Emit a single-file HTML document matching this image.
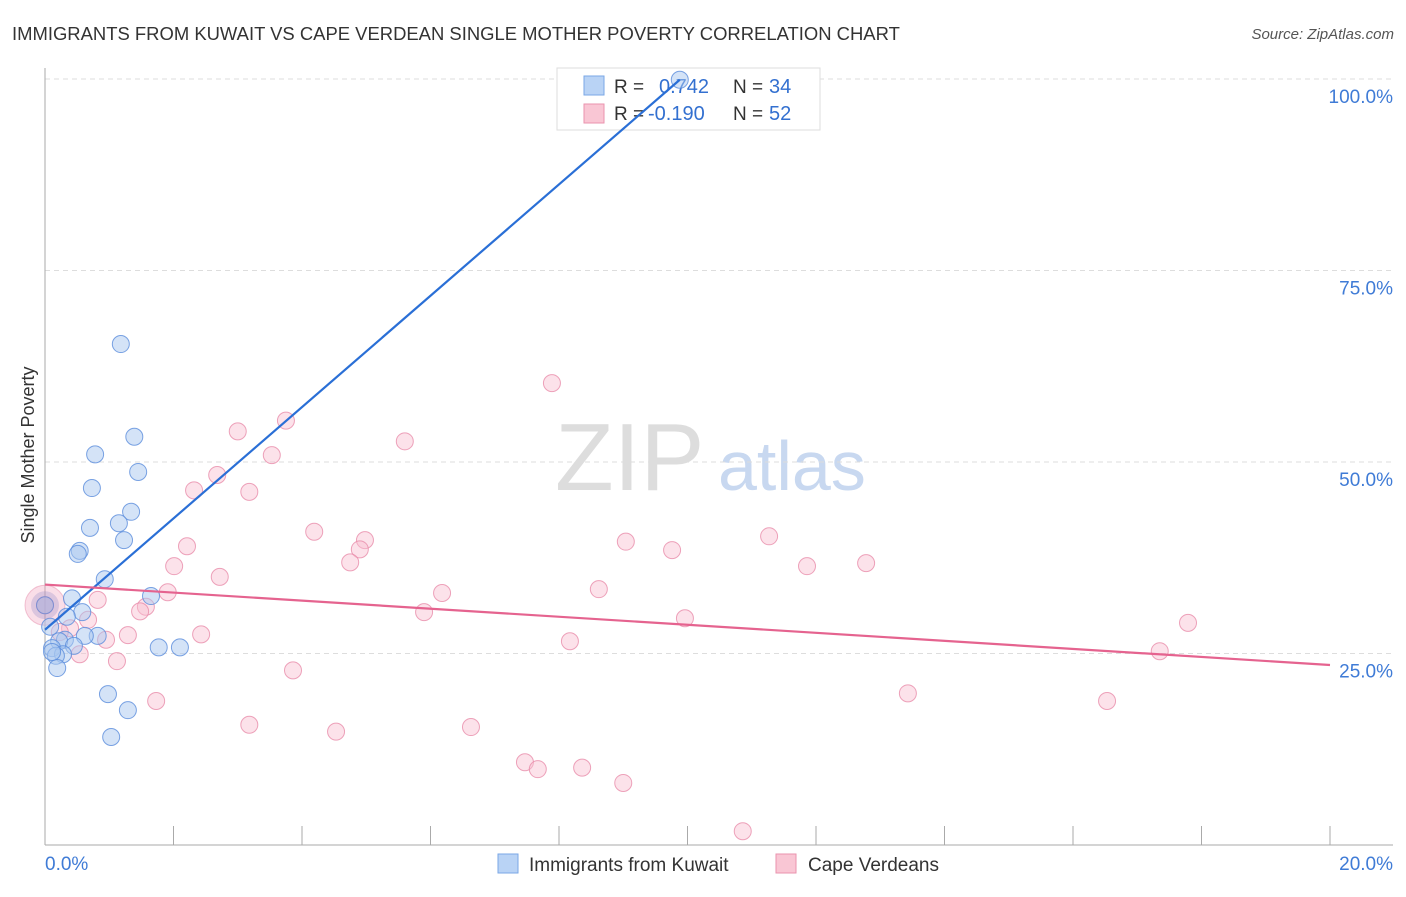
<!DOCTYPE html>
<html><head><meta charset="utf-8"><style>
body{margin:0;background:#fff;font-family:"Liberation Sans",sans-serif;}
svg text{font-family:"Liberation Sans",sans-serif;}
</style></head><body>
<svg id="c" width="1406" height="892" xmlns="http://www.w3.org/2000/svg">
<text x="12" y="40" font-size="18.45" fill="#333">IMMIGRANTS FROM KUWAIT VS CAPE VERDEAN SINGLE MOTHER POVERTY CORRELATION CHART</text>
<text x="1394" y="39" font-size="15" fill="#555" font-style="italic" text-anchor="end">Source: ZipAtlas.com</text>
<text x="34" y="455" font-size="18" fill="#333" text-anchor="middle" transform="rotate(-90 34 455)">Single Mother Poverty</text>
<text x="555" y="490" font-size="96" fill="#ddd" font-family="Liberation Serif">ZIP</text>
<text x="718" y="490" font-size="70" fill="#c8d8f0">atlas</text>
<g id="grid"></g>
<g>
<rect x="557" y="68" width="263" height="62" fill="#fff" stroke="#ddd"/>
<rect x="584" y="76" width="20" height="19" fill="#b9d3f5" stroke="#7aa7e6"/>
<rect x="584" y="104" width="20" height="19" fill="#f9c6d4" stroke="#ea93ae"/>
<text x="614" y="93" font-size="19" fill="#333">R =</text>
<text x="659" y="93" font-size="20" fill="#3370d0">0.742</text>
<text x="733" y="93" font-size="19" fill="#333">N =</text>
<text x="769" y="93" font-size="20" fill="#3370d0">34</text>
<text x="614" y="120" font-size="19" fill="#333">R =</text>
<text x="648" y="120" font-size="20" fill="#3370d0">-0.190</text>
<text x="733" y="120" font-size="19" fill="#333">N =</text>
<text x="769" y="120" font-size="20" fill="#3370d0">52</text>
</g>
<g id="pts"></g>
<g id="lines"></g>
<g>
<rect x="498" y="854" width="20" height="19" fill="#b9d3f5" stroke="#7aa7e6"/>
<text x="529" y="871" font-size="19" fill="#333">Immigrants from Kuwait</text>
<rect x="776" y="854" width="20" height="19" fill="#f9c6d4" stroke="#ea93ae"/>
<text x="808" y="871" font-size="19" fill="#333">Cape Verdeans</text>
</g>
</svg>
<script>
const xTicks=[0,2,4,6,8,10,12,14,16,18,20];
const yTicks=[25,50,75,100];
const yTickLabels=["25.0%","50.0%","75.0%","100.0%"];
const blueX=[1.18,1.39,0.78,1.45,0.73,1.34,1.15,0.70,1.23,0.54,0.51,0.93,1.65,0.42,0.58,0.34,0.82,0.62,0.31,0.22,0.45,0.11,0.28,0.17,1.77,2.10,0.19,0.98,1.29,1.03,0.0,0.08,9.88,0.11];
const blueY=[65.4,53.3,51.0,48.7,46.6,43.5,42.0,41.4,39.8,38.4,38.0,34.7,32.5,32.2,30.4,29.8,27.3,27.3,26.8,26.6,26.0,25.7,24.9,24.7,25.8,25.8,23.1,19.7,17.6,14.1,31.3,28.5,99.9,25.2];
const pinkX=[0,7.89,3.75,3.00,5.60,3.53,2.68,2.32,3.18,4.19,4.98,4.90,2.21,4.75,9.04,9.76,11.27,11.86,12.78,2.01,2.72,1.91,8.62,6.18,0.82,1.57,1.48,5.90,9.96,0.67,0.39,1.29,0.95,2.43,8.17,1.12,0.54,3.86,17.79,17.35,1.73,13.43,16.53,3.18,4.53,6.63,7.47,7.67,8.36,9.00,10.86,0.23];
const pinkY=[31.3,60.3,55.4,54.0,52.7,50.9,48.3,46.3,46.1,40.9,39.8,38.6,39.0,36.9,39.6,38.5,40.3,36.4,36.8,36.4,35.0,33.0,33.4,32.9,32.0,31.1,30.5,30.4,29.6,29.4,28.3,27.4,26.8,27.5,26.6,24.0,24.9,22.8,29.0,25.3,18.8,19.8,18.8,15.7,14.8,15.4,10.8,9.9,10.1,8.1,1.8,27.8];
const blueTrend=[[0,28.1],[9.88,99.9]];
const pinkTrend=[[0,34.0],[20,23.5]];
const NS="http://www.w3.org/2000/svg";
const X=v=>45+v*64.25, Y=v=>845-v*7.66;
function mk(t,a,p){const e=document.createElementNS(NS,t);for(const k in a)e.setAttribute(k,a[k]);p.appendChild(e);return e;}
const g=document.getElementById('grid');
yTicks.forEach((t,i)=>{
 const l=mk('line',{x1:45,x2:1393,y1:Y(t),y2:Y(t),stroke:'#ddd','stroke-dasharray':'5,4'},g);
 
 
 const tx=mk('text',{x:1393,y:Y(t)+24,'font-size':19,fill:'#3f7bd6','text-anchor':'end'},g);
 tx.textContent=yTickLabels[i];
 
 
});
const ax=mk('line',{x1:45,x2:45,y1:68,y2:845,stroke:'#aaa'},g);


const bx=mk('line',{x1:45,x2:1393,y1:845,y2:845,stroke:'#aaa'},g);


xTicks.forEach(t=>{
 const l=mk('line',{x1:X(t),x2:X(t),y1:826,y2:845,stroke:'#aaa'},g);
 
 
});
const t0=mk('text',{x:45,y:870,'font-size':19,fill:'#3f7bd6'},g);t0.textContent=xTicks[0].toFixed(1)+'%';


const t1=mk('text',{x:1393,y:870,'font-size':19,fill:'#3f7bd6','text-anchor':'end'},g);t1.textContent=xTicks[xTicks.length-1].toFixed(1)+'%';


const p=document.getElementById('pts');
const bigP=mk('circle',{cx:X(0),cy:Y(31.3),r:20,fill:'rgba(240,160,190,0.35)',stroke:'rgba(230,140,170,0.5)'},p);


pinkX.forEach((x,i)=>{
 const c=mk('circle',{cx:X(x),cy:Y(pinkY[i]),r:8.5,fill:'rgba(248,190,208,0.45)',stroke:'rgba(232,140,170,0.8)'},p);
 
 
});
blueX.forEach((x,i)=>{
 const c=mk('circle',{cx:X(x),cy:Y(blueY[i]),r:8.5,fill:'rgba(170,200,240,0.5)',stroke:'rgba(90,140,220,0.8)'},p);
 
 
});
const bigB=mk('circle',{cx:X(0),cy:Y(31.3),r:14,fill:'rgba(150,140,200,0.3)',stroke:'none'},p);


const L=document.getElementById('lines');
const bl=mk('line',{x1:X(blueTrend[0][0]),y1:Y(blueTrend[0][1]),x2:X(blueTrend[1][0]),y2:Y(blueTrend[1][1]),stroke:'#2a6fd6','stroke-width':2.2},L);


const pl=mk('line',{x1:X(pinkTrend[0][0]),y1:Y(pinkTrend[0][1]),x2:X(pinkTrend[1][0]),y2:Y(pinkTrend[1][1]),stroke:'#e5638f','stroke-width':2.2},L);


</script>
</body></html>
